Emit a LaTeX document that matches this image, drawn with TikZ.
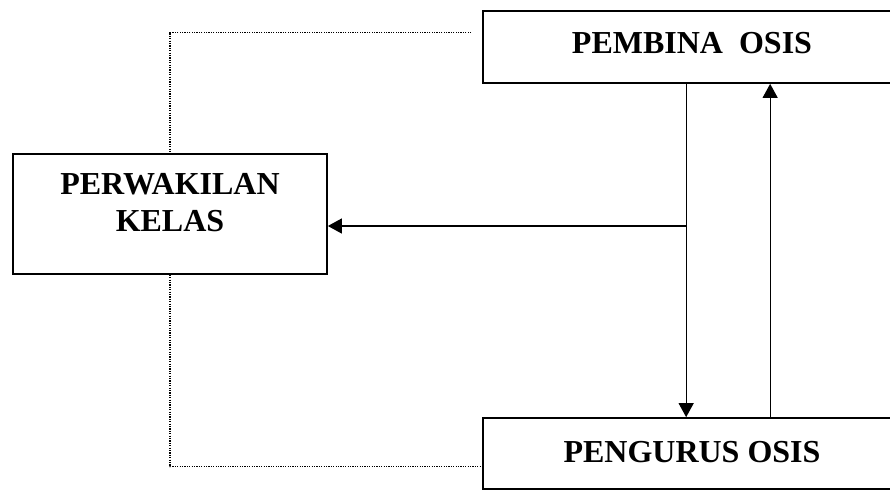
\documentclass[tikz,border=0pt]{standalone}
\usepackage{fontspec}
\setmainfont{Liberation Serif}
\usetikzlibrary{arrows.meta}

\begin{document}
\begin{tikzpicture}[x=0.5pt,y=-0.5pt,
  box/.style={draw, rectangle, line width=0.85pt, minimum width=209pt, inner sep=0pt, font=\fontsize{16pt}{18.5pt}\selectfont\bfseries, text height=10.6pt},
  link/.style={line width=0.6pt, -{Triangle[length=7pt,width=7.5pt]}},
  dots/.style={line width=0.6pt, dash pattern=on 0.6pt off 0.6pt}]
\path[use as bounding box, clip] (0,0) rectangle (890,494);
\node (pembina) [box, minimum height=36pt, text depth=4.5pt] at (692,47) {PEMBINA\ \ OSIS};
\node (pengurus) [box, minimum height=35.5pt, text depth=1.5pt] at (692,453.5) {PENGURUS OSIS};
\node (kelas) [box, minimum width=157pt, minimum height=60pt, align=center, text height=29.1pt, text depth=11.5pt] at (170,214) {PERWAKILAN\\KELAS};
\coordinate (downtop) at ([xshift=102pt]pembina.south west);
\coordinate (downend) at ([xshift=102pt]pengurus.north west);
\coordinate (uptop) at ([xshift=144pt]pembina.south west);
\coordinate (upend) at ([xshift=144pt]pengurus.north west);
\coordinate (kelasin) at ([yshift=-6pt]kelas.east);
\draw[link] (downtop) -- (downend);
\draw[link] (upend) -- (uptop);
\draw[link] (downtop |- kelasin) -- (kelasin);
\draw[dots] ([xshift=-5.5pt,yshift=-11pt]pembina.north west) -| (kelas.north);
\draw[dots] (kelas.south) |- ([yshift=11.5pt]pengurus.south west);
\end{tikzpicture}
\end{document}
